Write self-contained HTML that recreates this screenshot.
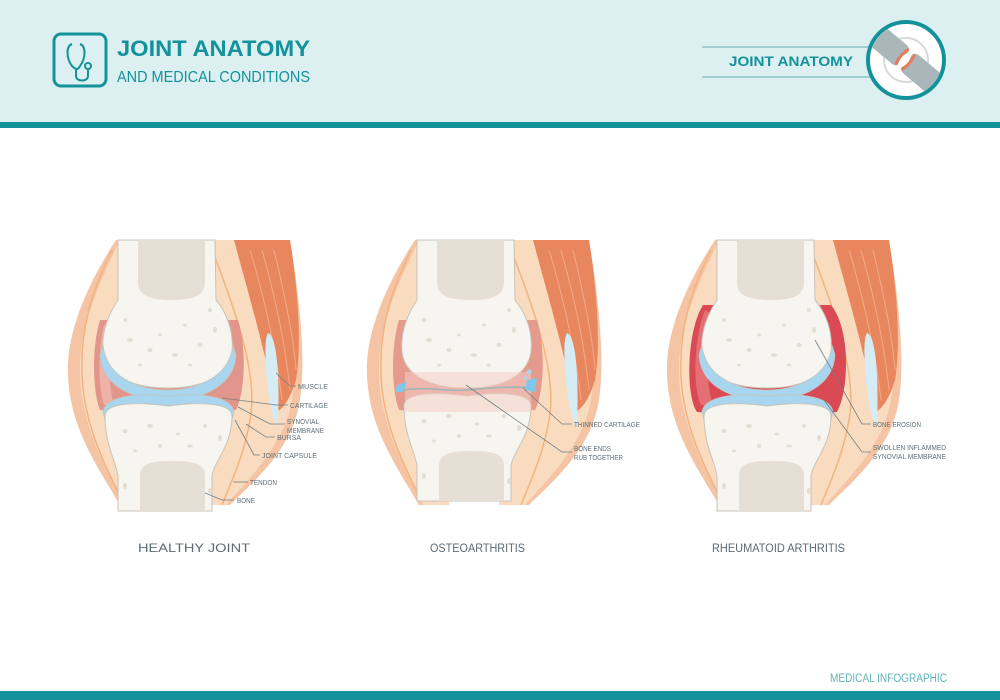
<!DOCTYPE html>
<html><head><meta charset="utf-8"><style>
html,body{margin:0;padding:0;width:1000px;height:700px;overflow:hidden;background:#fff;font-family:"Liberation Sans",sans-serif}
svg{display:block}
</style></head><body>
<svg width="1000" height="700" viewBox="0 0 1000 700" xmlns="http://www.w3.org/2000/svg">
<defs>
<clipPath id="ic"><circle cx="906" cy="60" r="36"/></clipPath>
<g id="soft">
  <path d="M116,240 C90,280 66,330 68,375 C70,430 100,470 120,505 L150,505 L150,240 Z" fill="#f4c4a4"/>
  <path d="M120,240 C98,285 78,330 80,375 C82,430 108,470 124,505 L150,505 L150,240 Z" fill="#f9dcc0"/>
  <path d="M112,250 C92,290 80,330 82,375 C84,425 105,465 122,500" fill="none" stroke="#f2b47c" stroke-width="1.5"/>
  <path d="M200,240 L290,240 C300,300 306,360 300,400 C292,450 255,480 230,505 L200,505 Z" fill="#f4c4a4"/>
  <path d="M200,240 L280,240 C292,300 298,360 292,400 C284,445 250,478 226,505 L200,505 Z" fill="#f9dcc0"/>
  <path d="M210,245 C240,320 258,380 250,420 C244,455 232,480 222,505" fill="none" stroke="#f2b47c" stroke-width="1.5"/>
  <path d="M234,240 L290,240 C298,290 302,345 296,380 C290,400 282,410 276,412 C268,360 250,300 234,240 Z" fill="#e8875e"/>
  <path d="M250,250 C265,300 276,350 282,400 M262,250 C276,300 286,350 290,390 M274,250 C286,300 294,340 296,370" fill="none" stroke="#f3a98a" stroke-width="1"/>
  <path d="M268,333 C276,335 280,370 278,425 C274,425 268,400 266,370 C265,350 265,338 268,333 Z" fill="#d5ecf5"/>
</g>
<g id="ub">
  <path d="M118,240 L215,240 L216,300 C226,312 234,330 232,352 C228,378 200,388 168,388 C136,388 106,378 103,352 C101,330 110,312 118,300 Z" fill="#f7f5f0" stroke="#c9c3ba" stroke-width="1"/>
  <path d="M138,240 L205,240 L205,282 C205,295 195,300 172,300 C148,300 138,295 138,282 Z" fill="#e6dfd5"/>
  <g fill="#e4ddd2"><ellipse cx="130" cy="340" rx="3" ry="2"/><ellipse cx="150" cy="350" rx="2.5" ry="2"/><ellipse cx="175" cy="355" rx="3" ry="2"/><ellipse cx="200" cy="345" rx="2.5" ry="2"/><ellipse cx="215" cy="330" rx="2" ry="3"/><ellipse cx="160" cy="335" rx="2" ry="1.5"/><ellipse cx="190" cy="365" rx="2.5" ry="1.5"/><ellipse cx="140" cy="365" rx="2" ry="1.5"/><ellipse cx="125" cy="320" rx="2" ry="2"/><ellipse cx="210" cy="310" rx="2" ry="2"/><ellipse cx="185" cy="325" rx="2" ry="1.5"/></g>
</g>
<g id="lb">
  <path d="M105,410 C105,398 130,395 168,400 C205,395 232,398 232,410 C232,440 214,455 212,470 L212,505 L118,505 L118,470 C116,455 105,440 105,410 Z" fill="#f7f5f0" stroke="#c9c3ba" stroke-width="1"/>
  <path d="M140,505 L140,470 C140,458 150,455 172,455 C195,455 205,458 205,470 L205,505 Z" fill="#e6dfd5"/>
  <g fill="#e4ddd2"><ellipse cx="125" cy="425" rx="2.5" ry="2"/><ellipse cx="150" cy="420" rx="3" ry="2"/><ellipse cx="178" cy="428" rx="2.5" ry="1.5"/><ellipse cx="205" cy="420" rx="2" ry="2"/><ellipse cx="220" cy="432" rx="2" ry="3"/><ellipse cx="135" cy="445" rx="2" ry="1.5"/><ellipse cx="190" cy="440" rx="3" ry="1.5"/><ellipse cx="160" cy="440" rx="2" ry="2"/><ellipse cx="125" cy="480" rx="2" ry="3"/><ellipse cx="210" cy="485" rx="2" ry="3"/></g>
</g>
</defs>

<rect x="0" y="0" width="1000" height="122" fill="#dcf0f1"/>
<rect x="0" y="122" width="1000" height="6" fill="#14929c"/>
<rect x="0" y="691" width="1000" height="9" fill="#14929c"/>
<rect x="54" y="34" width="52" height="52" rx="7" fill="none" stroke="#14929c" stroke-width="3"/>
<path d="M72,44 C66,46 66,58 72,66 C76,70 78,70 80,66 C86,58 86,46 80,44 M76,69 L76,76 C76,82 88,82 88,76 L88,70" fill="none" stroke="#14929c" stroke-width="2"/>
<circle cx="88" cy="66" r="3" fill="none" stroke="#14929c" stroke-width="2"/>
<text x="117" y="56" font-size="22" font-weight="bold" fill="#14929c" textLength="193" lengthAdjust="spacingAndGlyphs">JOINT ANATOMY</text>
<text x="117" y="82" font-size="16" fill="#14929c" textLength="193" lengthAdjust="spacingAndGlyphs">AND MEDICAL CONDITIONS</text>
<line x1="702" y1="47" x2="870" y2="47" stroke="#8fc2c8" stroke-width="1.5"/>
<line x1="702" y1="77" x2="870" y2="77" stroke="#8fc2c8" stroke-width="1.5"/>
<text x="729" y="66" font-size="14" font-weight="bold" fill="#14929c" textLength="124" lengthAdjust="spacingAndGlyphs">JOINT ANATOMY</text>
<circle cx="906" cy="60" r="38" fill="#fff" stroke="#14929c" stroke-width="4"/>
<circle cx="906" cy="60" r="22" fill="none" stroke="#d7dadb" stroke-width="2"/>
<g clip-path="url(#ic)">
  <g transform="rotate(40 906 60)">
    <path d="M860,48 L896,48 C902,48 904,52 902,56 C900,60 900,62 902,66 C904,70 902,72 896,72 L860,72 Z" fill="#a9b7ba"/>
    <path d="M952,48 L914,48 C908,48 906,52 908,56 C910,60 910,62 908,66 C906,70 908,72 914,72 L952,72 Z" fill="#a9b7ba"/>
    <path d="M901,50 C899,56 899,64 901,70" fill="none" stroke="#ea7a5c" stroke-width="3"/>
    <path d="M909,50 C911,56 911,64 909,70" fill="none" stroke="#ea7a5c" stroke-width="3"/>
  </g>
</g>

<g>
  <use href="#soft"/>
  <path d="M100,320 C92,345 92,390 100,410 L128,412 L210,412 L236,410 C246,390 246,345 238,320 Z" fill="#e2958a"/>
  <path d="M104,325 C98,350 98,388 104,405 L114,405 C108,385 108,350 112,328 Z" fill="#eeb3a8"/>
  <use href="#ub"/>
  <path d="M103,345 C106,375 135,390 168,390 C200,390 230,375 233,345 L236,355 C234,385 205,400 168,400 C130,400 102,385 100,355 Z" fill="#a7d6ee" stroke="#c9c3ba" stroke-width="0.8"/>
  <path d="M103,412 C105,398 130,392 168,396 C206,392 232,398 234,412 L232,420 C226,408 205,404 168,408 C130,404 108,408 105,420 Z" fill="#a7d6ee" stroke="#c9c3ba" stroke-width="0.8"/>
  <use href="#lb" transform="translate(0,6)"/>
</g>
<g transform="translate(299,0)">
  <use href="#soft"/>
  <path d="M100,320 C92,345 92,390 100,410 L128,412 L210,412 L236,410 C246,390 246,345 238,320 Z" fill="#e59a8e"/>
  <use href="#ub"/>
  <use href="#lb" transform="translate(0,-4)"/>
  <rect x="106" y="372" width="126" height="40" fill="#f6cfc6" opacity="0.55"/>
  <path d="M102,390 C130,386 150,392 168,390 C190,388 215,386 236,388" fill="none" stroke="#9fb3b9" stroke-width="1.5"/>
  <path d="M98,385 L108,382 L104,392 L96,392 Z M228,380 L238,378 L236,392 L226,390 Z" fill="#7ec8ea"/>
  <circle cx="230" cy="372" r="2.5" fill="#a7d6ee"/><circle cx="226" cy="378" r="1.8" fill="#a7d6ee"/>
</g>
<g transform="translate(599,0)">
  <use href="#soft"/>
  <path d="M104,305 C88,330 86,395 98,412 L128,414 L210,414 L238,412 C250,390 252,330 232,305 Z" fill="#d94a55"/>
  <path d="M106,310 C94,340 94,390 102,405 L114,405 C106,380 106,340 114,315 Z" fill="#e46f74"/>
  <use href="#ub"/>
  <path d="M103,345 C106,375 135,390 168,390 C200,390 230,375 233,345 L236,355 C234,385 205,400 168,400 C130,400 102,385 100,355 Z" fill="#a7d6ee" stroke="#c9c3ba" stroke-width="0.8"/>
  <path d="M103,412 C105,398 130,392 168,396 C206,392 232,398 234,412 L232,420 C226,408 205,404 168,408 C130,404 108,408 105,420 Z" fill="#a7d6ee" stroke="#c9c3ba" stroke-width="0.8"/>
  <use href="#lb" transform="translate(0,6)"/>
</g>

<g fill="none" stroke="#6f7f86" stroke-width="0.8">
  <polyline points="276,373 290,386 296,386"/>
  <polyline points="222,398 276,405 288,405"/>
  <polyline points="238,407 270,424 285,424"/>
  <polyline points="246,424 266,437 275,437"/>
  <polyline points="235,420 254,455 260,455"/>
  <polyline points="233,482 248,482"/>
  <polyline points="205,493 222,500 234,500"/>
  <polyline points="523,388 562,424 572,424"/>
  <polyline points="466,385 562,452 572,452"/>
  <polyline points="815,340 862,424 871,424"/>
  <polyline points="824,400 862,452 871,452"/>
</g>
<g fill="#5f7078" font-size="7.5">
  <text x="298" y="389" textLength="30" lengthAdjust="spacingAndGlyphs">MUSCLE</text>
  <text x="290" y="408" textLength="38" lengthAdjust="spacingAndGlyphs">CARTILAGE</text>
  <text x="287" y="424" textLength="32" lengthAdjust="spacingAndGlyphs">SYNOVIAL</text>
  <text x="287" y="433" textLength="37" lengthAdjust="spacingAndGlyphs">MEMBRANE</text>
  <text x="277" y="440" textLength="24" lengthAdjust="spacingAndGlyphs">BURSA</text>
  <text x="262" y="458" textLength="55" lengthAdjust="spacingAndGlyphs">JOINT CAPSULE</text>
  <text x="250" y="485" textLength="27" lengthAdjust="spacingAndGlyphs">TENDON</text>
  <text x="237" y="503" textLength="18" lengthAdjust="spacingAndGlyphs">BONE</text>
  <text x="574" y="427" textLength="66" lengthAdjust="spacingAndGlyphs">THINNED CARTILAGE</text>
  <text x="574" y="451" textLength="37" lengthAdjust="spacingAndGlyphs">BONE ENDS</text>
  <text x="574" y="460" textLength="49" lengthAdjust="spacingAndGlyphs">RUB TOGETHER</text>
  <text x="873" y="427" textLength="48" lengthAdjust="spacingAndGlyphs">BONE EROSION</text>
  <text x="873" y="450" textLength="73" lengthAdjust="spacingAndGlyphs">SWOLLEN INFLAMMED</text>
  <text x="873" y="459" textLength="73" lengthAdjust="spacingAndGlyphs">SYNOVIAL MEMBRANE</text>
</g>
<g fill="#5b6b73" font-size="12">
  <text x="138" y="552" textLength="112" lengthAdjust="spacingAndGlyphs">HEALTHY JOINT</text>
  <text x="430" y="552" textLength="95" lengthAdjust="spacingAndGlyphs">OSTEOARTHRITIS</text>
  <text x="712" y="552" textLength="133" lengthAdjust="spacingAndGlyphs">RHEUMATOID ARTHRITIS</text>
</g>
<text x="830" y="682" font-size="11.5" fill="#5fb3bb" textLength="117" lengthAdjust="spacingAndGlyphs">MEDICAL INFOGRAPHIC</text>
</svg>
</body></html>
